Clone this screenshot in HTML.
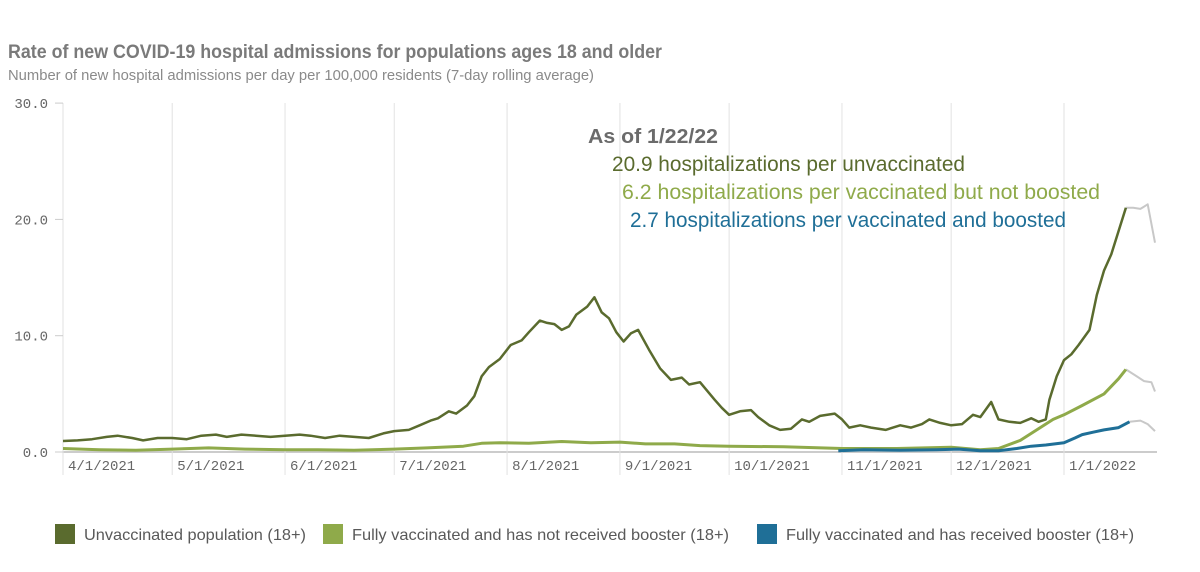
<!DOCTYPE html>
<html><head><meta charset="utf-8"><style>
body{margin:0;background:#fff;width:1200px;height:567px;overflow:hidden;font-family:"Liberation Sans",sans-serif}
</style></head><body>
<svg id="c" width="1200" height="567">
<text x="8" y="58" font-size="19" font-weight="bold" fill="#7a7a7a" textLength="654" lengthAdjust="spacingAndGlyphs">Rate of new COVID-19 hospital admissions for populations ages 18 and older</text>
<text x="8" y="80" font-size="15" fill="#8a8a8a" textLength="586" lengthAdjust="spacingAndGlyphs">Number of new hospital admissions per day per 100,000 residents (7-day rolling average)</text>
<g id="grid"></g><g id="lines"></g>
<text x="588" y="143" font-size="20" font-weight="bold" fill="#6b6b6b" textLength="130" lengthAdjust="spacingAndGlyphs">As of 1/22/22</text>
<text x="612" y="171" font-size="21" fill="#5a6b2e" textLength="353" lengthAdjust="spacingAndGlyphs">20.9 hospitalizations per unvaccinated</text>
<text x="622" y="199" font-size="21" fill="#8faa4a" textLength="478" lengthAdjust="spacingAndGlyphs">6.2 hospitalizations per vaccinated but not boosted</text>
<text x="630" y="227" font-size="21" fill="#1f6f97" textLength="436" lengthAdjust="spacingAndGlyphs">2.7 hospitalizations per vaccinated and boosted</text>
<g>
<rect x="55" y="524" width="20" height="20" fill="#5a6b2e"/>
<text x="84" y="540" font-size="16" fill="#595959" textLength="222" lengthAdjust="spacingAndGlyphs">Unvaccinated population (18+)</text>
<rect x="323" y="524" width="20" height="20" fill="#8faa4a"/>
<text x="352" y="540" font-size="16" fill="#595959" textLength="377" lengthAdjust="spacingAndGlyphs">Fully vaccinated and has not received booster (18+)</text>
<rect x="757" y="524" width="20" height="20" fill="#1f6f97"/>
<text x="786" y="540" font-size="16" fill="#595959" textLength="348" lengthAdjust="spacingAndGlyphs">Fully vaccinated and has received booster (18+)</text>
</g>
</svg>
<script>
// days since 4/1/2021
const tickLabels=["4/1/2021","5/1/2021","6/1/2021","7/1/2021","8/1/2021","9/1/2021","10/1/2021","11/1/2021","12/1/2021","1/1/2022"];
const tickDays=[0,30,61,91,122,153,183,214,244,275];
const yTicks=[0,10,20,30];
const unvDays=[0,4,8,12,15,19,22,26,30,34,38,42,45,49,53,57,61,65,68,72,76,80,84,88,91,95,98,101,103,106,108,111,113,115,117,120,123,126,128,131,133,135,137,139,141,144,146,148,150,152,154,156,158,161,164,167,170,172,175,179,181,183,186,189,191,194,197,200,203,205,208,212,214,216,219,222,226,230,233,236,238,241,244,247,250,252,255,257,260,263,266,268,270,271,273,275,277,279,282,284,286,288,290,292];
const unvVals=[0.95,1.0,1.1,1.3,1.4,1.2,1.0,1.2,1.2,1.1,1.4,1.5,1.3,1.5,1.4,1.3,1.4,1.5,1.4,1.2,1.4,1.3,1.2,1.6,1.8,1.9,2.3,2.7,2.9,3.5,3.3,4.0,4.8,6.5,7.3,8.0,9.2,9.6,10.3,11.3,11.1,11.0,10.5,10.8,11.8,12.5,13.3,12.0,11.5,10.3,9.5,10.2,10.5,8.8,7.2,6.2,6.4,5.8,6.0,4.5,3.8,3.2,3.5,3.6,3.0,2.3,1.9,2.0,2.8,2.6,3.1,3.3,2.8,2.1,2.3,2.1,1.9,2.3,2.1,2.4,2.8,2.5,2.3,2.4,3.2,3.0,4.3,2.8,2.6,2.5,2.9,2.6,2.8,4.5,6.5,7.9,8.4,9.2,10.5,13.5,15.6,17.0,19.0,21.0];
const nbDays=[0,10,20,30,40,50,61,70,80,91,100,110,115,120,128,137,145,153,160,168,175,183,198,214,229,244,252,257,263,268,272,275,280,286,290,292];
const nbVals=[0.3,0.2,0.15,0.25,0.35,0.25,0.2,0.2,0.15,0.25,0.35,0.5,0.75,0.8,0.75,0.9,0.8,0.85,0.7,0.7,0.55,0.5,0.45,0.3,0.3,0.4,0.2,0.3,1.0,2.0,2.8,3.2,4.0,5.0,6.3,7.1];
const bDays=[213,220,230,240,246,252,257,262,266,270,275,278,280,283,286,290,293];
const bVals=[0.1,0.2,0.15,0.2,0.25,0.1,0.1,0.3,0.5,0.6,0.8,1.2,1.5,1.7,1.9,2.1,2.6];
const greyUnvDays=[292,294,296,298,300];const greyUnvVals=[21.0,21.0,20.9,21.3,18.0];
const greyNbDays=[292,295,297,299,300];const greyNbVals=[7.1,6.5,6.1,6.0,5.2];
const greyBDays=[293,296,298,300];const greyBVals=[2.6,2.7,2.4,1.8];
const x=d=>63+d*3.64, y=v=>452-v*11.63;
const ns="http://www.w3.org/2000/svg";
const G=document.getElementById('grid'),L=document.getElementById('lines');
function el(t,a,p){const e=document.createElementNS(ns,t);for(const k in a)e.setAttribute(k,a[k]);p.appendChild(e);return e;}
const ax=el('line',{x1:63,x2:1157,y1:452,y2:452,stroke:'#ccc','stroke-width':2},G);


const ay=el('line',{x1:63,x2:63,y1:103,y2:452,stroke:'#ccc'},G);


tickDays.forEach((d,i)=>{
 const g=el('line',{x1:x(d),x2:x(d),y1:103,y2:475,stroke:'#e2e2e2'},G);
 
 
 const t=el('text',{x:x(d)+5,y:470,'font-size':14,fill:'#666','font-family':'Liberation Mono, monospace'},G);
 t.textContent=tickLabels[i];
 
 
});
yTicks.forEach(v=>{
 const t=el('text',{x:48,y:y(v)+5,'font-size':14,fill:'#666','text-anchor':'end','font-family':'Liberation Mono, monospace'},G);
 t.textContent=v.toFixed(1);
 
 
 el('line',{x1:55,x2:63,y1:y(v),y2:y(v),stroke:'#ccc'},G);
});
function line(ds,vs,c,name,w){
 const n=Math.min(ds.length,vs.length);
 const p=el('path',{d:ds.slice(0,n).map((d,i)=>(i?'L':'M')+x(d).toFixed(1)+','+y(vs[i]).toFixed(1)).join(''),fill:'none',stroke:c,'stroke-width':w||2.5,'stroke-linejoin':'round'},L);
 
 
}
line(greyUnvDays,greyUnvVals,'#c8c8c8','line-unvaccinated-provisional',2);
line(greyNbDays,greyNbVals,'#c8c8c8','line-not-boosted-provisional',2);
line(greyBDays,greyBVals,'#c8c8c8','line-boosted-provisional',2);
line(nbDays,nbVals,'#8faa4a','line-not-boosted',3);
line(bDays,bVals,'#1f6f97','line-boosted',3);
line(unvDays,unvVals,'#5a6b2e','line-unvaccinated',2.5);
</script>
</body></html>
